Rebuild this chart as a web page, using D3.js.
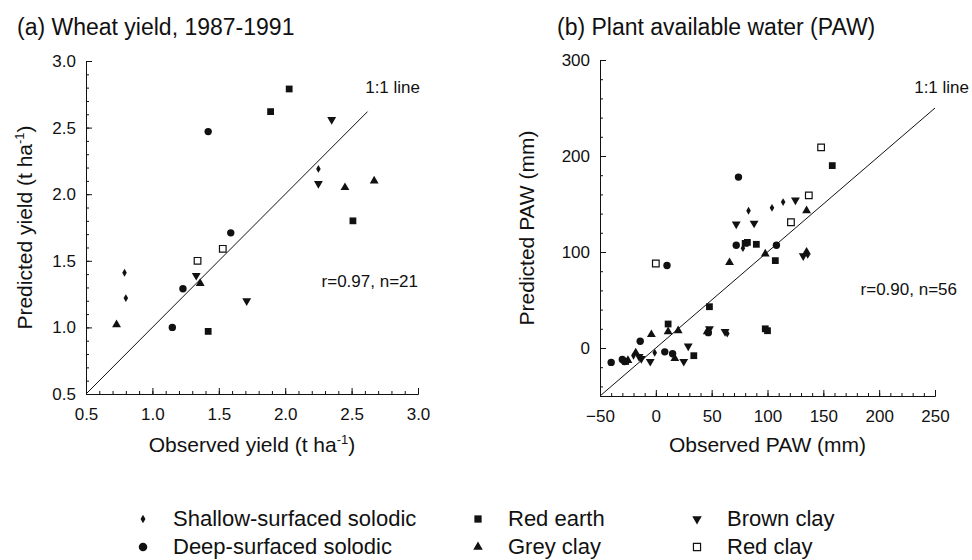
<!DOCTYPE html>
<html>
<head>
<meta charset="UTF-8">
<title>Predicted vs observed - wheat yield and PAW</title>
<script src="https://d3js.org/d3.v7.min.js"></script>
<style>
body { margin: 0; background: #fff; }
svg text { font-family: Arial, "Liberation Sans", Helvetica, sans-serif; fill: #111; }
.axis path, .axis line { stroke: #111; stroke-width: 1; }
.axis text { font-size: 17px; fill: #111; }
</style>
</head>
<body>
<svg width="972" height="560"></svg>
<script>
// soil groups, in legend order
var soilTypes = ["Shallow-surfaced solodic", "Deep-surfaced solodic", "Red earth", "Grey clay", "Brown clay", "Red clay"];

// (a) wheat yield, t/ha
var yieldObserved  = [2.03, 1.89, 2.51, 1.42,  2.35, 2.25, 1.33, 1.71,  1.42, 1.59, 1.23, 1.15,  2.25, 0.79, 0.80,  2.45, 2.67, 1.36, 0.73,  1.53, 1.34];
var yieldPredicted = [2.79, 2.62, 1.80, 0.97,  2.56, 2.08, 1.39, 1.20,  2.47, 1.71, 1.29, 1.00,  2.19, 1.41, 1.22,  2.05, 2.10, 1.33, 1.02,  1.59, 1.50];
var yieldSoil      = [2, 2, 2, 2,  4, 4, 4, 4,  1, 1, 1, 1,  0, 0, 0,  3, 3, 3, 3,  5, 5];

// (b) plant available water, mm
var pawObserved  = [114, 104, 83, 78, -1, -20, 64, 136,
                    74, 72, 108, 10, -14, 8, 15, -30, -40, 47, -28,
                    158, 80, 90, 107, 48, 11, 98, 34, -27, 100, 82,
                    135, 98, 135, 66, 11, 20, -4, 17, -18, -25, 46,
                    125, 72, 88, 132, 48, 62, 29, 25, -5, -13, -15,
                    148, 137, 121, 0];
var pawPredicted = [152, 146, 143, 104, -5, -8, 15, 97,
                    178, 107, 107, 86, 7, -4, -6, -12, -15, 16, -14,
                    190, 109, 108, 91, 43, 25, 20, -8, -14, 18, 110,
                    143, 98, 100, 89, 17, 18, 14, -11, -5, -13, 17,
                    154, 129, 130, 96, 20, 17, 2, -14, -14, -11, -9,
                    209, 159, 131, 88];
var pawSoil      = [0, 0, 0, 0, 0, 0, 0, 0,
                    1, 1, 1, 1, 1, 1, 1, 1, 1, 1, 1,
                    2, 2, 2, 2, 2, 2, 2, 2, 2, 2, 2,
                    3, 3, 3, 3, 3, 3, 3, 3, 3, 3, 3,
                    4, 4, 4, 4, 4, 4, 4, 4, 4, 4, 4,
                    5, 5, 5, 5];

// tick values
var yieldTicks = [0.5, 1.0, 1.5, 2.0, 2.5, 3.0];
var pawTicksX = [-50, 0, 50, 100, 150, 200, 250];
var pawTicksY = [0, 100, 200, 300];

var svg = d3.select("svg");

// marker shape for each soil group
function marker(sel, soil, big) {
	var k = big ? 1.15 : 1;
	if (soil == 0) {
		sel.append("path").attr("d", d3.symbol(d3.symbolDiamond, 18 * k)());
	} else if (soil == 1) {
		sel.append("circle").attr("r", 3.7 * k);
	} else if (soil == 2) {
		sel.append("path").attr("d", d3.symbol(d3.symbolSquare, 46 * k)());
	} else if (soil == 3) {
		sel.append("path").attr("d", d3.symbol(d3.symbolTriangle, 34 * k)());
	} else if (soil == 4) {
		sel.append("path").attr("d", d3.symbol(d3.symbolTriangle, 34 * k)()).attr("transform", "rotate(180)");
	} else {
		sel.append("path").attr("d", d3.symbol(d3.symbolSquare, 44 * k)())
			.attr("fill", "#fff").attr("stroke", "#111").attr("stroke-width", 1.2);
	}
	sel.selectAll("*").filter(function () { return !d3.select(this).attr("fill"); }).attr("fill", "#111");
}

// draws one panel
function panel(opt) {
	var x = d3.scaleLinear().domain(opt.xDomain).range([opt.left, opt.right]);
	var y = d3.scaleLinear().domain(opt.yDomain).range([opt.bottom, opt.top]);
	var g = svg.append("g");

	// minor ticks
	g.append("g").attr("class", "axis").attr("transform", "translate(0," + opt.bottom + ")")
		.call(d3.axisBottom(x).tickValues(opt.xMinor).tickSize(-3).tickSizeOuter(0).tickFormat(""));
	g.append("g").attr("class", "axis").attr("transform", "translate(" + opt.left + ",0)")
		.call(d3.axisLeft(y).tickValues(opt.yMinor).tickSize(-3).tickSizeOuter(0).tickFormat(""));

	// major ticks + labels
	g.append("g").attr("class", "axis").attr("transform", "translate(0," + opt.bottom + ")")
		.call(d3.axisBottom(x).tickValues(opt.xTicks).tickSize(-6).tickSizeOuter(0).tickPadding(14).tickFormat(opt.fmt));
	g.append("g").attr("class", "axis").attr("transform", "translate(" + opt.left + ",0)")
		.call(d3.axisLeft(y).tickValues(opt.yTicks).tickSize(-6).tickSizeOuter(0).tickPadding(10).tickFormat(opt.fmt));

	// 1:1 line
	g.append("line")
		.attr("x1", x(opt.lineFrom)).attr("y1", y(opt.lineFrom))
		.attr("x2", x(opt.lineTo)).attr("y2", y(opt.lineTo))
		.attr("stroke", "#111").attr("stroke-width", 1);

	// points
	g.selectAll(".pt").data(opt.obs).enter().append("g")
		.attr("class", "pt")
		.attr("transform", function (d, i) { return "translate(" + x(d) + "," + y(opt.pred[i]) + ")"; })
		.each(function (d, i) { marker(d3.select(this), opt.soil[i], false); });

	// titles and notes
	g.append("text").attr("x", opt.titleX).attr("y", 35).style("font-size", "23px").text(opt.title);
	g.append("text").attr("x", opt.lineLabelX).attr("y", 93).attr("text-anchor", "end").style("font-size", "17px").text("1:1 line");
	g.append("text").attr("x", opt.statX).attr("y", opt.statY).attr("text-anchor", "end").style("font-size", "17px").text(opt.stat);

	var xl = g.append("text").attr("x", (opt.left + opt.right) / 2).attr("y", 452)
		.attr("text-anchor", "middle").style("font-size", "21px");
	xl.append("tspan").text(opt.xLabel[0]);
	if (opt.xLabel[1]) {
		xl.append("tspan").attr("dy", -8).style("font-size", "13px").text(opt.xLabel[1]);
		xl.append("tspan").attr("dy", 8).text(opt.xLabel[2]);
	}

	var yl = g.append("text")
		.attr("transform", "translate(" + opt.yLabelX + "," + (opt.top + opt.bottom) / 2 + ") rotate(-90)")
		.attr("text-anchor", "middle").style("font-size", "21px");
	yl.append("tspan").text(opt.yLabel[0]);
	if (opt.yLabel[1]) {
		yl.append("tspan").attr("dy", -8).style("font-size", "13px").text(opt.yLabel[1]);
		yl.append("tspan").attr("dy", 8).text(opt.yLabel[2]);
	}
}

panel({
	left: 86, right: 418, top: 61, bottom: 394,
	xDomain: [0.5, 3], yDomain: [0.5, 3],
	xTicks: yieldTicks, yTicks: yieldTicks,
	xMinor: d3.range(5, 31).map(function (v) { return v / 10; }),
	yMinor: d3.range(5, 31).map(function (v) { return v / 10; }),
	fmt: d3.format(".1f"),
	lineFrom: 0.5, lineTo: 2.62,
	obs: yieldObserved, pred: yieldPredicted, soil: yieldSoil,
	title: "(a) Wheat yield, 1987-1991", titleX: 17,
	lineLabelX: 420, statX: 418, statY: 287, stat: "r=0.97, n=21",
	xLabel: ["Observed yield (t ha", "-1", ")"], yLabel: ["Predicted yield (t ha", "-1", ")"],
	yLabelX: 32
});

panel({
	left: 600, right: 935, top: 60, bottom: 396,
	xDomain: [-50, 250], yDomain: [-50, 300],
	xTicks: pawTicksX, yTicks: pawTicksY,
	xMinor: d3.range(-50, 251, 10),
	yMinor: d3.range(-40, 301, 20),
	fmt: d3.format("d"),
	lineFrom: -50, lineTo: 250,
	obs: pawObserved, pred: pawPredicted, soil: pawSoil,
	title: "(b) Plant available water (PAW)", titleX: 557,
	lineLabelX: 969, statX: 957, statY: 295, stat: "r=0.90, n=56",
	xLabel: ["Observed PAW (mm)"], yLabel: ["Predicted PAW (mm)"],
	yLabelX: 534
});

// legend, three columns of two
var legendX = [143, 478, 697];
var legendY = [519, 547];
var leg = svg.append("g");
soilTypes.forEach(function (name, i) {
	var col = [0, 0, 1, 1, 2, 2][i], row = i % 2;
	var item = leg.append("g").attr("transform", "translate(" + legendX[col] + "," + legendY[row] + ")");
	marker(item, i, true);
	item.append("text").attr("x", 30).attr("y", 7).style("font-size", "22px").text(name);
});
</script>
</body>
</html>
